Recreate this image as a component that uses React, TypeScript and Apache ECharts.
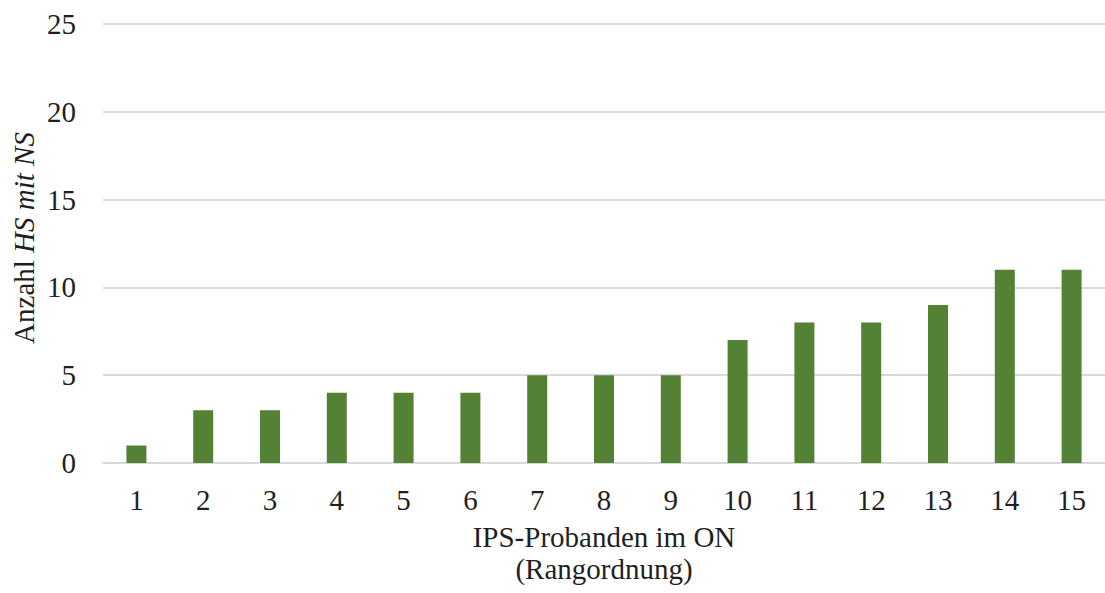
import React, { useEffect, useRef } from "react";
import * as echarts from "echarts";

const categories = ["1", "2", "3", "4", "5", "6", "7", "8", "9", "10", "11", "12", "13", "14", "15"];
const values = [1, 3, 3, 4, 4, 4, 5, 5, 5, 7, 8, 8, 9, 11, 11];
const xTitle = "IPS-Probanden im ON\n(Rangordnung)";
const yTitleRegular = "Anzahl ";
const yTitleItalic = "HS mit NS";

const FONT = '"Liberation Serif", "Times New Roman", serif';
const FS = 29;
const TXT = "#1f1f1f";

export default function App() {
  const ref = useRef<HTMLDivElement>(null);
  useEffect(() => {
    if (!ref.current) return;
    const chart = echarts.init(ref.current, null, { renderer: "svg" });
    chart.setOption({
      animation: false,
      backgroundColor: "#ffffff",
      textStyle: { fontFamily: FONT },
      grid: { left: 103, right: -3, top: 24, bottom: 130, containLabel: false },
      xAxis: {
        type: "category",
        data: categories,
        axisLine: { show: true, lineStyle: { color: "#d9d9d9", width: 2 } },
        axisTick: { show: false },
        axisLabel: { fontSize: FS, color: TXT, margin: 22, fontFamily: FONT },
        name: xTitle,
        nameLocation: "middle",
        nameGap: 58,
        nameTextStyle: { fontSize: FS, color: TXT, lineHeight: 32, fontFamily: FONT },
      },
      yAxis: {
        type: "value",
        min: 0,
        max: 25,
        interval: 5,
        axisLine: { show: false },
        axisTick: { show: false },
        axisLabel: { fontSize: FS, color: TXT, margin: 27, fontFamily: FONT },
        splitLine: { lineStyle: { color: "#d9d9d9", width: 2 } },
      },
      graphic: [
        {
          type: "text",
          x: 24,
          y: 238,
          rotation: Math.PI / 2,
          style: {
            text: yTitleRegular + "{i|" + yTitleItalic + "}",
            rich: { i: { fontStyle: "italic", fontSize: FS, fontFamily: FONT, fill: TXT } },
            fontSize: FS,
            fontFamily: FONT,
            fill: TXT,
            align: "center",
            verticalAlign: "middle",
          },
        },
      ],
      series: [
        {
          type: "bar",
          data: values,
          barWidth: 20,
          itemStyle: { color: "#548235" },
        },
      ],
    });
    return () => chart.dispose();
  }, []);
  return (
    <div
      ref={ref}
      style={{ position: "fixed", left: 0, top: 0, width: 1105, height: 593 }}
    />
  );
}
